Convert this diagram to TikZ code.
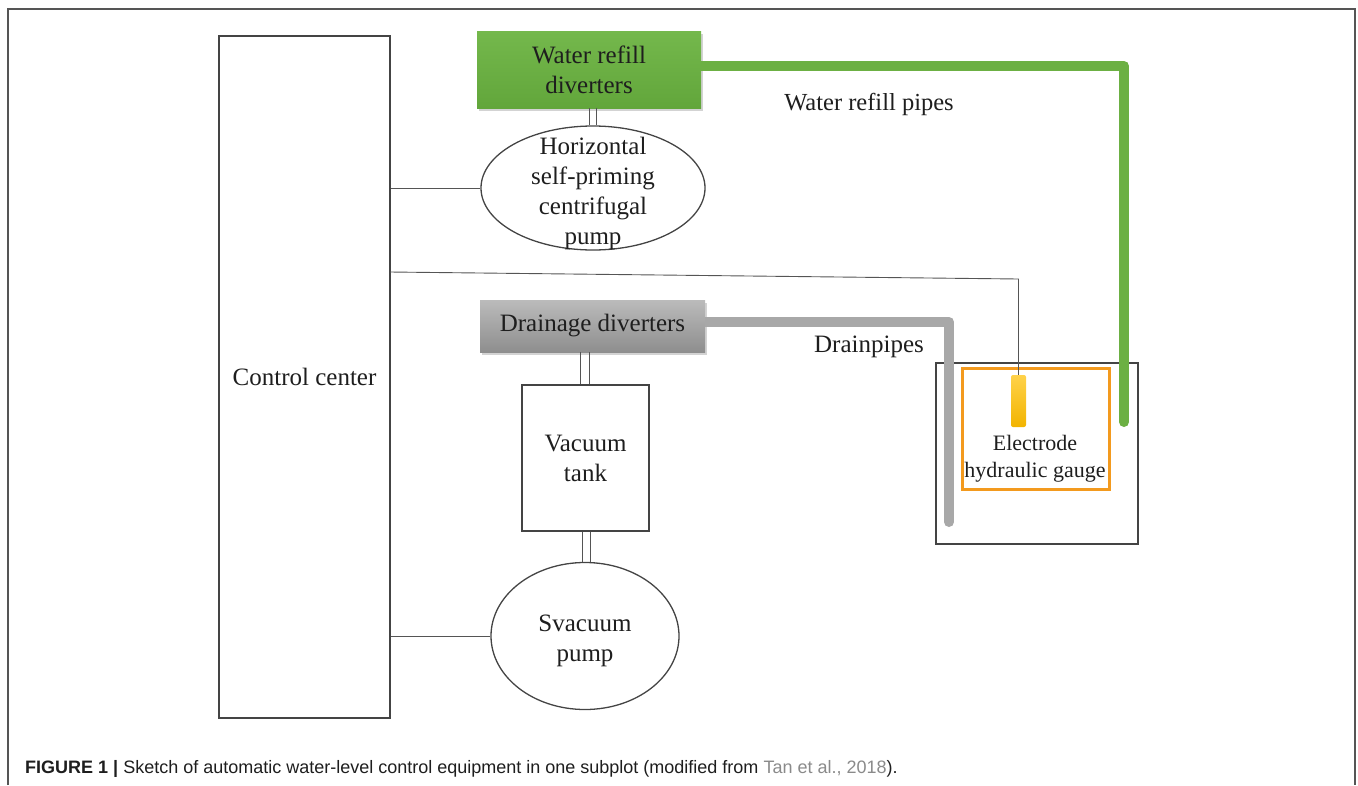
\documentclass[tikz,border=0pt]{standalone}
\usepackage{fontspec}
\setmainfont{Liberation Serif}
\newfontfamily\tnr{Liberation Serif}
\newfontfamily\capfont{Liberation Sans}
\usetikzlibrary{shapes.geometric,shadows}
\definecolor{pipegreen}{HTML}{6CB043}
\definecolor{greentop}{HTML}{74B84C}
\definecolor{greenbot}{HTML}{62A63B}
\definecolor{graytop}{HTML}{BBBBBB}
\definecolor{graybot}{HTML}{8E8E8E}
\definecolor{pipegray}{HTML}{A8A8A8}
\definecolor{gaugeorange}{HTML}{F39A1E}
\definecolor{eltop}{HTML}{FFD24A}
\definecolor{elbot}{HTML}{F2B400}
\definecolor{txt}{HTML}{1E1E1E}
\definecolor{frame}{HTML}{555555}
\definecolor{citegray}{HTML}{8A8A8A}
\tikzset{
  lbl/.style={font=\tnr\fontsize{25}{30}\selectfont, text=txt, align=center, inner sep=0pt},
  boxline/.style={draw=frame!80!black, line width=1.3pt},
  wire/.style={draw=frame, line width=0.9pt},
  greenbox/.style={lbl, top color=greentop, bottom color=greenbot, draw=none,
    minimum width=224pt, minimum height=77pt, drop shadow={shadow xshift=2pt, shadow yshift=-3pt, opacity=0.35}},
  graybox/.style={lbl, top color=graytop, bottom color=graybot, draw=none,
    minimum width=225pt, minimum height=52pt, drop shadow={shadow xshift=2pt, shadow yshift=-3pt, opacity=0.35}},
  pumpshape/.style={ellipse, boxline, inner sep=0pt},
  greenpipe/.style={draw=pipegreen, line width=10pt, line cap=round},
  graypipe/.style={draw=pipegray, line width=10pt, line cap=round},
}
\begin{document}
\begin{tikzpicture}[x=1pt,y=-1pt]
\useasboundingbox (0,0) rectangle (1358,785);
% outer frame
\draw[draw=frame, line width=1.5pt] (8,785) -- (8,9) -- (1355,9) -- (1355,785);

% control center
\node[lbl, boxline, minimum width=171pt, minimum height=682pt] (cc) at (304.5,377) {Control center};

% water refill diverters and pump
\node[pumpshape, minimum width=224pt, minimum height=124pt] (hpump) at (593,188) {};
\node[lbl] (hpumptext) at (593,193.5) {Horizontal\\self-priming\\centrifugal\\pump};
\node[greenbox] (wrd) at (589,69.5) {Water refill\\diverters};
\draw[wire] ([xshift=-3.5pt]wrd.south -| hpump.north) -- ([xshift=-3.5pt]hpump.north);
\draw[wire] ([xshift=3.5pt]wrd.south -| hpump.north) -- ([xshift=3.5pt]hpump.north);
\draw[wire] (hpump.west) -- (hpump.west -| cc.east);

% drainage
\node[graybox] (dd) at (592.5,326) {Drainage diverters};
\node[lbl, boxline, minimum width=127pt, minimum height=146pt] (tank) at (585.5,458) {Vacuum\\tank};
\node[pumpshape, minimum width=188pt, minimum height=147pt] (vpump) at (585,636) {};
\node[lbl] (vpumptext) at (585,640.5) {Svacuum\\pump};
\draw[wire] ([xshift=-5pt]dd.south -| tank.north) -- ([xshift=-5pt]tank.north);
\draw[wire] ([xshift=3.5pt]dd.south -| tank.north) -- ([xshift=3.5pt]tank.north);
\draw[wire] ([xshift=-3.5pt]tank.south) -- ([xshift=-3.5pt]tank.south |- vpump.north);
\draw[wire] ([xshift=4.5pt]tank.south) -- ([xshift=4.5pt]tank.south |- vpump.north);
\draw[wire] (vpump.west) -- (vpump.west -| cc.east);

% water tank with gauge
\node[boxline, minimum width=202pt, minimum height=181pt, inner sep=0pt] (wtank) at (1037,453.5) {};
\node[draw=gaugeorange, line width=3pt, minimum width=147pt, minimum height=121pt, inner sep=0pt] (gauge) at (1035.5,428.5) {};
\node[top color=eltop, bottom color=elbot, draw=none, rounded corners=2pt,
      minimum width=15pt, minimum height=52pt, inner sep=0pt] (elec) at (1018.5,401) {};
\node[lbl, font=\tnr\fontsize{22}{27}\selectfont] (gtext) at (1035,459) {Electrode\\hydraulic gauge};

% pipes
\coordinate (gp1) at (1124,66);
\coordinate (gp2) at (1124,422);
\draw[greenpipe, line cap=butt] (wrd.east |- gp1) -- (gp1);
\draw[greenpipe] (gp1) -- (gp2);
\coordinate (dp1) at (949,322);
\coordinate (dp2) at (949,522);
\draw[graypipe, line cap=butt] (dd.east |- dp1) -- (dp1);
\draw[graypipe] (dp1) -- (dp2);
\node[lbl, font=\tnr\fontsize{24.5}{30}\selectfont] (wrp) at (869,104) {Water refill pipes};
\node[lbl] (dpl) at (869,347) {Drainpipes};

% control wire to electrode
\coordinate (cw1) at (390,272);
\coordinate (cw2) at (1018.5,279);
\draw[wire] (cw1) -- (cw2) -- (elec.north);

% caption
\node[anchor=base west, inner sep=0pt, text=txt, font=\capfont\fontsize{18}{21}\selectfont] (cap) at (25,773)
  {\textbf{FIGURE 1 |} Sketch of automatic water-level control equipment in one subplot (modified from \textcolor{citegray}{Tan et al., 2018}).};
\end{tikzpicture}
\end{document}
